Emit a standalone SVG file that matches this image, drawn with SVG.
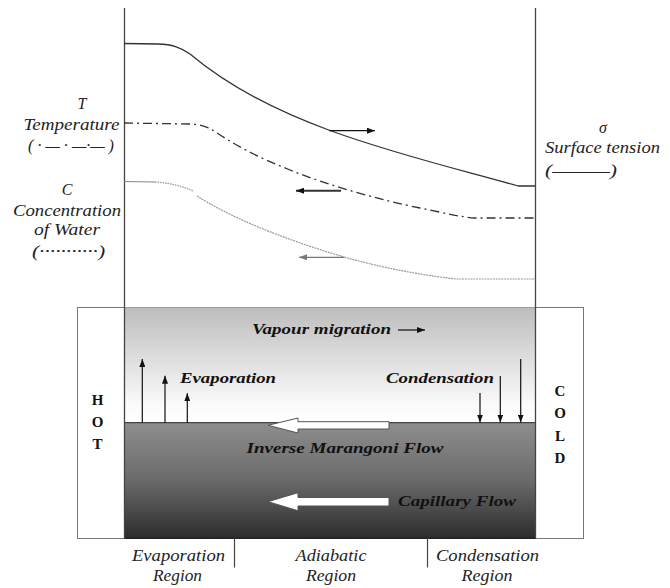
<svg xmlns="http://www.w3.org/2000/svg" width="670" height="588" viewBox="0 0 670 588">
<style>
.it{font-style:italic;font-size:16px;fill:#222}
.bi{font-style:italic;font-weight:bold;font-size:15px;fill:#111}
.b{font-weight:bold;font-size:15px;fill:#111}
.ln{fill:none;stroke:#333;stroke-width:1.3}
.ar{stroke:#111;stroke-width:1.2;fill:none}
.blk{fill:#fff;stroke:#555;stroke-width:1}
</style>
<defs>
<linearGradient id="gAir" x1="0" y1="0" x2="0" y2="1">
<stop offset="0" stop-color="#bdbdbd"/>
<stop offset="0.85" stop-color="#fbfbfb"/>
<stop offset="1" stop-color="#ffffff"/>
</linearGradient>
<linearGradient id="gLiq" x1="0" y1="0" x2="0" y2="1">
<stop offset="0" stop-color="#8e8e8e"/>
<stop offset="0.5" stop-color="#6a6a6a"/>
<stop offset="1" stop-color="#2c2c2c"/>
</linearGradient>
<marker id="mh" viewBox="0 0 8 6" refX="8" refY="3" markerWidth="8" markerHeight="6" markerUnits="userSpaceOnUse" orient="auto">
<path d="M0,0 L8,3 L0,6 Z" fill="#111"/>
</marker>
<marker id="mh2" viewBox="0 0 8 6" refX="8" refY="3" markerWidth="8" markerHeight="6" markerUnits="userSpaceOnUse" orient="auto">
<path d="M0,0 L8,3 L0,6 Z" fill="#777"/>
</marker>
</defs>
<rect width="670" height="588" fill="#fff"/>

<g id="cell">
<rect x="77.5" y="307.5" width="506" height="231" fill="#fff" stroke="#777" stroke-width="1"/>
<rect x="124.5" y="307.5" width="411" height="115" fill="url(#gAir)"/>
<rect x="124.5" y="422.5" width="411" height="116" fill="url(#gLiq)"/>
<line x1="124.5" y1="422.7" x2="535.5" y2="422.7" stroke="#444" stroke-width="1.2"/>
<line x1="124.5" y1="538.3" x2="535.5" y2="538.3" stroke="#222" stroke-width="1.5"/>
<line x1="124.5" y1="8" x2="124.5" y2="538" stroke="#444" stroke-width="1.3"/>
<line x1="535.5" y1="8" x2="535.5" y2="538" stroke="#444" stroke-width="1.3"/>
<line x1="234.5" y1="538" x2="234.5" y2="567.5" stroke="#444" stroke-width="1.2"/>
<line x1="427.5" y1="538" x2="427.5" y2="567.5" stroke="#444" stroke-width="1.2"/>
</g>

<g id="curve-sigma">
<path class="ln" d="M124,43.5 L158,44 C172,44.5 180,47 190,54 C215,75 260,105 330,130.5 C400,156 470,172 518,186 L535,186"/>
</g>
<g id="curve-T">
<path class="ln" stroke-dasharray="9 4 2 4" d="M124,123 L190,124 C200,124.5 206,126 214,131 C235,145 255,156 290,170 C330,186 380,200 420,208 C445,213 460,217 475,218 L535,218"/>
</g>
<g id="curve-C">
<path d="M124,181.5 L155,182" fill="none" stroke="#888" stroke-width="1.2"/>
<path d="M155,182 C170,183 182,186 193,191" fill="none" stroke="#999" stroke-width="1.3" stroke-dasharray="1.5 1"/>
<path d="M197,196 C230,217 280,238 344,257 C390,270 430,276 456,279 L535,279" fill="none" stroke="#999" stroke-width="1.2" stroke-dasharray="2 0.8"/>
</g>

<g font-family="Liberation Serif, serif">
<g id="label-T">
<text class="it" x="82" y="109" text-anchor="middle">T</text>
<text class="it" x="71.5" y="130" text-anchor="middle" textLength="96" lengthAdjust="spacingAndGlyphs">Temperature</text>
<text class="it" x="71" y="151" text-anchor="middle" textLength="86" lengthAdjust="spacingAndGlyphs">( · — · —·— )</text>
</g>
<g id="label-C">
<text class="it" x="67" y="195" text-anchor="middle">C</text>
<text class="it" x="67" y="216" text-anchor="middle" textLength="108" lengthAdjust="spacingAndGlyphs">Concentration</text>
<text class="it" x="67" y="235" text-anchor="middle" textLength="66" lengthAdjust="spacingAndGlyphs">of Water</text>
<text class="it" x="68.5" y="257" text-anchor="middle" textLength="73" lengthAdjust="spacingAndGlyphs">(···········)</text>
</g>
<g id="label-sigma">
<text class="it" x="603" y="133" text-anchor="middle">σ</text>
<text class="it" x="602.5" y="153" text-anchor="middle" textLength="115" lengthAdjust="spacingAndGlyphs">Surface tension</text>
<text class="it" x="581" y="176" text-anchor="middle" textLength="72" lengthAdjust="spacingAndGlyphs">(———)</text>
</g>

<g id="hot">
<text class="b" x="97.5" y="404.5" text-anchor="middle">H</text>
<text class="b" x="97.5" y="427" text-anchor="middle">O</text>
<text class="b" x="97.5" y="448.5" text-anchor="middle">T</text>
</g>
<g id="cold">
<text class="b" x="560" y="395.5" text-anchor="middle">C</text>
<text class="b" x="560" y="417.5" text-anchor="middle">O</text>
<text class="b" x="560" y="440.5" text-anchor="middle">L</text>
<text class="b" x="560" y="462.5" text-anchor="middle">D</text>
</g>

<g id="vapour">
<text class="bi" x="252" y="334" textLength="139" lengthAdjust="spacingAndGlyphs">Vapour migration</text>
</g>
<g id="evaporation">
<text class="bi" x="180" y="383" textLength="96" lengthAdjust="spacingAndGlyphs">Evaporation</text>
</g>
<g id="condensation">
<text class="bi" x="386" y="382.5" textLength="108" lengthAdjust="spacingAndGlyphs">Condensation</text>
</g>
<g id="marangoni">
<path class="blk" d="M389,421.7 L298,421.7 L298,418 L268,425.3 L298,433 L298,429 L389,429 Z"/>
<text class="bi" x="246.5" y="453" textLength="197" lengthAdjust="spacingAndGlyphs">Inverse Marangoni Flow</text>
</g>
<g id="capillary">
<path class="blk" d="M389,497.5 L298,497.5 L298,492.7 L268,501.7 L298,510.7 L298,506 L389,506 Z"/>
<text class="bi" x="398" y="506" textLength="118" lengthAdjust="spacingAndGlyphs">Capillary Flow</text>
</g>

<g id="regions">
<text class="it" x="178.5" y="561" text-anchor="middle" textLength="93" lengthAdjust="spacingAndGlyphs">Evaporation</text>
<text class="it" x="177.5" y="581" text-anchor="middle" textLength="49" lengthAdjust="spacingAndGlyphs">Region</text>
<text class="it" x="331" y="561" text-anchor="middle" textLength="71" lengthAdjust="spacingAndGlyphs">Adiabatic</text>
<text class="it" x="331" y="581" text-anchor="middle" textLength="50" lengthAdjust="spacingAndGlyphs">Region</text>
<text class="it" x="487.5" y="561" text-anchor="middle" textLength="103" lengthAdjust="spacingAndGlyphs">Condensation</text>
<text class="it" x="487" y="581" text-anchor="middle" textLength="51" lengthAdjust="spacingAndGlyphs">Region</text>
</g>
</g>

<g id="connectors">
<line class="ar" x1="329" y1="130.7" x2="375" y2="130.7" marker-end="url(#mh)"/>
<line x1="341" y1="190.7" x2="296" y2="190.7" stroke="#333" stroke-width="2" marker-end="url(#mh)"/>
<line x1="344" y1="257.3" x2="299" y2="257.3" stroke="#777" stroke-width="1.2" marker-end="url(#mh2)"/>
<line class="ar" x1="398" y1="330" x2="425" y2="330" marker-end="url(#mh)"/>
<line class="ar" x1="142.3" y1="422.7" x2="142.3" y2="359" marker-end="url(#mh)"/>
<line class="ar" x1="165" y1="422.7" x2="165" y2="375.7" marker-end="url(#mh)"/>
<line class="ar" x1="187.3" y1="422.7" x2="187.3" y2="393.3" marker-end="url(#mh)"/>
<line class="ar" x1="480" y1="393" x2="480" y2="422.5" marker-end="url(#mh)"/>
<line class="ar" x1="500.3" y1="376" x2="500.3" y2="422.5" marker-end="url(#mh)"/>
<line class="ar" x1="520.7" y1="359" x2="520.7" y2="422.5" marker-end="url(#mh)"/>
</g>
</svg>
